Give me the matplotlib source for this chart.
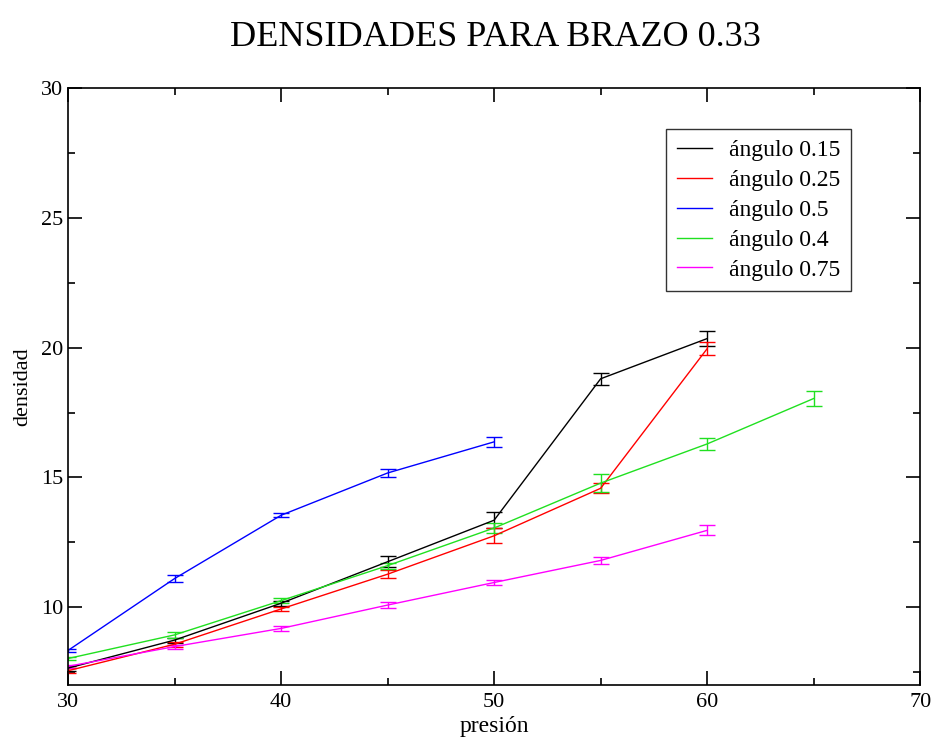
import matplotlib
matplotlib.use("Agg")
import matplotlib.pyplot as plt
from matplotlib.lines import Line2D
from matplotlib.ticker import MultipleLocator

plt.rcParams['font.family'] = ['Liberation Serif', 'DejaVu Serif']

# presion values and densidad (with error) for each angle
p_015 = [30, 35, 40, 45, 50, 55, 60]
d_015 = [7.65, 8.73, 10.15, 11.75, 13.35, 18.8, 20.35]
e_015 = [0.1, 0.1, 0.1, 0.22, 0.3, 0.23, 0.3]

p_025 = [30, 35, 40, 45, 50, 55, 60]
d_025 = [7.55, 8.57, 9.93, 11.27, 12.75, 14.58, 19.96]
e_025 = [0.1, 0.1, 0.08, 0.15, 0.29, 0.2, 0.24]

p_05 = [30, 35, 40, 45, 50]
d_05 = [8.33, 11.1, 13.54, 15.17, 16.37]
e_05 = [0.05, 0.13, 0.08, 0.17, 0.2]

p_04 = [30, 35, 40, 45, 50, 55, 60, 65]
d_04 = [8.02, 8.93, 10.25, 11.6, 13.05, 14.78, 16.29, 18.04]
e_04 = [0.05, 0.12, 0.1, 0.12, 0.2, 0.36, 0.22, 0.29]

p_075 = [30, 35, 40, 45, 50, 55, 60]
d_075 = [7.72, 8.48, 9.18, 10.08, 10.95, 11.8, 12.96]
e_075 = [0.05, 0.08, 0.08, 0.13, 0.08, 0.13, 0.19]

series = [
    (p_015, d_015, e_015, '#000000', 'ángulo 0.15'),
    (p_025, d_025, e_025, '#ff0000', 'ángulo 0.25'),
    (p_05, d_05, e_05, '#0000ff', 'ángulo 0.5'),
    (p_04, d_04, e_04, '#20e020', 'ángulo 0.4'),
    (p_075, d_075, e_075, '#ff00ff', 'ángulo 0.75'),
]

fig = plt.figure(figsize=(9.39, 7.47), dpi=100)
ax = fig.add_axes([0.0724, 0.083, 0.9076, 0.799])

handles = []
for p, d, e, c, lab in series:
    ax.errorbar(p, d, yerr=e, color=c, linewidth=1.0, elinewidth=1.0,
                capsize=6, capthick=1.0)
    handles.append(Line2D([], [], color=c, linewidth=1.0, label=lab))

ax.set_xlim(30, 70)
ax.set_ylim(7, 30)
ax.xaxis.set_major_locator(MultipleLocator(10))
ax.xaxis.set_minor_locator(MultipleLocator(5))
ax.yaxis.set_major_locator(MultipleLocator(5))
ax.yaxis.set_minor_locator(MultipleLocator(2.5))
ax.tick_params(which='both', direction='in', top=True, right=True,
               labelsize=16, width=1.2)
ax.tick_params(which='major', length=10)
ax.tick_params(which='minor', length=5)
ax.tick_params(axis='x', pad=6)
for s in ax.spines.values():
    s.set_linewidth(1.2)

ax.set_xlabel('presión', fontsize=17, labelpad=3)
ax.set_ylabel('densidad', fontsize=16, labelpad=6)
fig.suptitle('DENSIDADES PARA BRAZO 0.33', fontsize=26, x=0.528, y=0.972)

leg = ax.legend(handles=handles, loc='upper left',
                bbox_to_anchor=(0.702, 0.931), fontsize=17,
                frameon=True, fancybox=False, handlelength=1.5,
                borderpad=0.45, labelspacing=0.35, handletextpad=0.7,
                borderaxespad=0)
leg.get_frame().set_edgecolor('black')
leg.get_frame().set_linewidth(1.0)

fig.savefig('out.png', dpi=100)
